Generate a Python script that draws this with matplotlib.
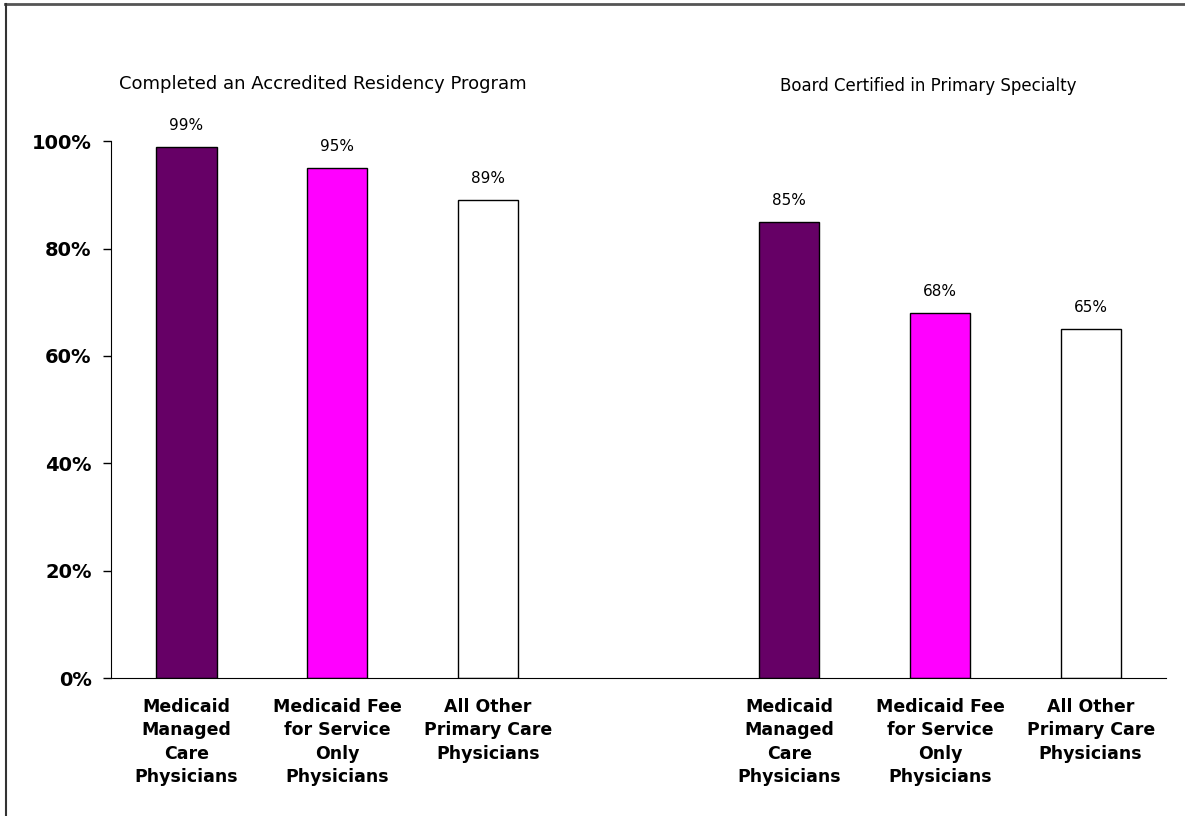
import matplotlib.pyplot as plt
from matplotlib.lines import Line2D

# data
groups = ['Completed an Accredited Residency Program', 'Board Certified in Primary Specialty']
categories = ['Medicaid\nManaged\nCare\nPhysicians',
              'Medicaid Fee\nfor Service\nOnly\nPhysicians',
              'All Other\nPrimary Care\nPhysicians']
residency = [99, 95, 89]
board_certified = [85, 68, 65]
colors = ['#660066', '#FF00FF', '#FFFFFF']

plt.rcParams['font.family'] = ['DejaVu Sans']

fig = plt.figure(figsize=(11.85, 8.16), dpi=100)
ax = fig.add_axes([0.0937, 0.169, 0.984 - 0.0937, 0.658])

xpos = [0, 1, 2, 4, 5, 6]
values = residency + board_certified
bars = ax.bar(xpos, values, width=0.4, color=colors * 2, edgecolor='black', linewidth=1)

for b, v in zip(bars, values):
    ax.annotate('%d%%' % v, (b.get_x() + b.get_width() / 2, v), xytext=(0, 10),
                textcoords='offset points', ha='center', va='bottom', fontsize=11)

ax.set_xlim(-0.5, 6.5)
ax.set_ylim(0, 100)
ax.set_yticks([0, 20, 40, 60, 80, 100])
ax.set_yticklabels(['%d%%' % t for t in [0, 20, 40, 60, 80, 100]], fontsize=14, fontweight='bold')
ax.set_xticks(xpos)
ax.set_xticklabels(categories * 2, fontsize=12.5, fontweight='bold', linespacing=1.4)
ax.tick_params(axis='x', length=0, pad=14)
ax.tick_params(axis='y', length=6, width=1, direction='out', pad=8)
ax.spines['top'].set_visible(False)
ax.spines['right'].set_visible(False)

fig.text(0.272, 0.897, groups[0], ha='center', va='center', fontsize=13)
fig.text(0.783, 0.894, groups[1], ha='center', va='center', fontsize=12)

# outer frame (top and left only)
fig.add_artist(Line2D([0.004, 1.0], [0.995, 0.995], color='#555555', linewidth=2))
fig.add_artist(Line2D([0.005, 0.005], [0.0, 0.995], color='#333333', linewidth=1.5))

fig.savefig('out.png', dpi=100)
